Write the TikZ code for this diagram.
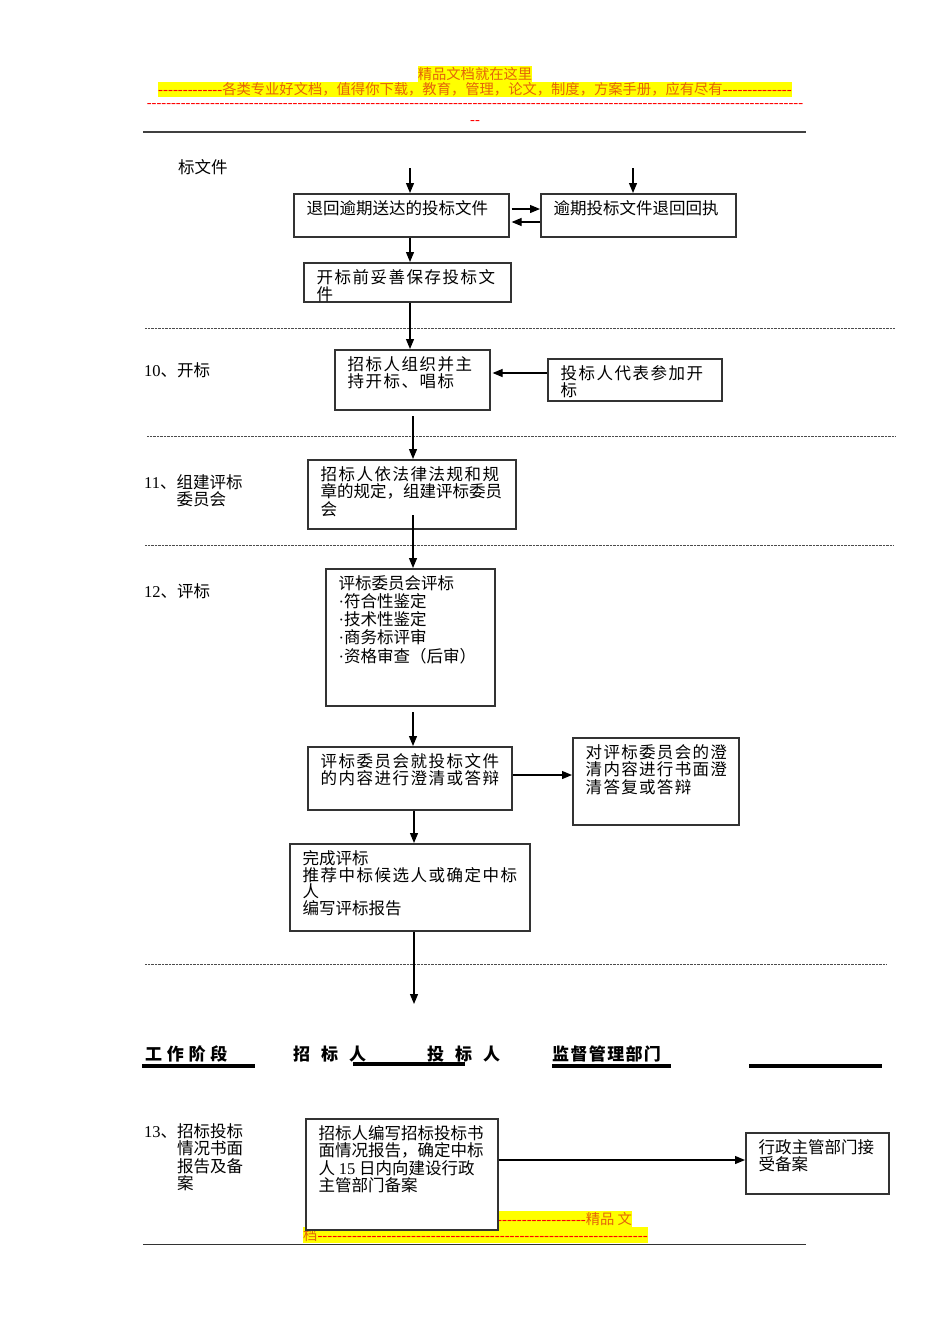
\documentclass[tikz,border=0pt]{standalone}
\usepackage{fontspec}
\setmainfont{Noto Sans CJK SC}
\newfontfamily\lat{Liberation Serif}
\newfontfamily\dsh[Ligatures=TeXOff]{Liberation Serif}
\newfontfamily\wide[LetterSpace=9]{Noto Sans CJK SC}
\newfontfamily\hwide[LetterSpace=28]{Noto Sans CJK SC}
\newfontfamily\mwide[LetterSpace=8]{Noto Sans CJK SC}
\usetikzlibrary{arrows.meta}
\ExplSyntaxOn
\cs_new:Npn \rephy #1 { \prg_replicate:nn {#1} {-} }
\ExplSyntaxOff
\definecolor{hlorange}{RGB}{228,100,10}
\definecolor{hlred}{RGB}{255,0,0}
\definecolor{hlyellow}{RGB}{255,255,0}
\tikzset{
  boxst/.style={draw=black!80, line width=1.6pt, fill=white, inner sep=0pt, rectangle},
  txt/.style={inner sep=0pt, align=left, font=\fontsize{16.5}{17.5}\selectfont},
  wtxt/.style={inner sep=0pt, align=left, font=\wide\fontsize{16.5}{17.5}\selectfont},
  arr/.style={line width=1.2pt, -{Triangle[length=10pt,width=8pt]}},
  sepline/.style={line width=0.8pt, black!70, dash pattern=on 0.7pt off 0.7pt},
  bar/.style={line width=4pt, black},
  hl/.style={fill=hlyellow, inner xsep=0pt, inner ysep=1pt, text=hlorange, font=\fontsize{14.3}{15}\selectfont},
  redtxt/.style={inner sep=0pt, text=hlred, font=\dsh\fontsize{14.6}{15}\selectfont},
  hdr/.style={inner sep=0pt, font=\bfseries\fontsize{17}{18}\selectfont},
}
\newcommand\mkbox[7][txt]{%
  \node[boxst, anchor=north west, minimum width={(#5)-(#3)}, minimum height={(#6)-(#4)}] (#2) at (#3,#4) {};
  \node[#1, anchor=north west] (#2t) at ([xshift=13.5pt,yshift=-7pt]#2.north west) {#7};
}
\newcommand\dd[1]{{\dsh\color{hlred}\fontsize{14.8}{15}\selectfont\rephy{#1}}}
\newcommand\dotb{{\lat ·}}
\begin{document}
\begin{tikzpicture}[x=1pt,y=-1pt]
\useasboundingbox[fill=white] (0,0) rectangle (950,1344);

% ---- header ----
\node[hl] (h1) at (475,74) {精品文档就在这里};
\node[hl] (h2) at (475,89.5) {\dd{13}各类专业好文档，值得你下载，教育，管理，论文，制度，方案手册，应有尽有\dd{14}};
\node[redtxt] (h3) at (475,106) {\rephy{135}};
\node[redtxt] (h4) at (475,123) {\rephy{2}};
\draw[line width=2pt, black!75] (143,131.5) coordinate (hl1) -- (806,131.5) coordinate (hl2);

% ---- separators ----
\draw[sepline] (145,328) coordinate (d1a) -- (895,328) coordinate (d1b);
\draw[sepline] (147,436) coordinate (d2a) -- (895,436) coordinate (d2b);
\draw[sepline] (145,545) coordinate (d3a) -- (893,545) coordinate (d3b);
\draw[sepline] (145,964) coordinate (d4a) -- (886,964) coordinate (d4b);

% ---- left labels ----
\node[txt, anchor=west] (l0) at (178,167) {标文件};
\node[txt, anchor=west] (l10) at (144,370) {{\lat 10}、开标};
\node[txt, anchor=north west] (l11) at (144,474) {{\lat 11}、组建评标\\\phantom{{\lat 11}、}委员会};
\node[txt, anchor=west] (l12) at (144,591) {{\lat 12}、评标};
\node[txt, anchor=north west] (l13) at (144,1123) {{\lat 13}、招标投标\\\phantom{{\lat 13}、}情况书面\\\phantom{{\lat 13}、}报告及备\\\phantom{{\lat 13}、}案};

% ---- boxes ----
\mkbox{b1}{293}{193}{508}{236}{退回逾期送达的投标文件}
\mkbox{b2}{540}{193}{735}{236}{逾期投标文件退回回执}
\mkbox[wtxt]{b3}{303}{262}{510}{301}{开标前妥善保存投标文\\件}
\mkbox[wtxt]{b4}{334}{349}{489}{409}{招标人组织并主\\持开标、唱标}
\mkbox[wtxt]{b5}{547}{358}{721}{400}{投标人代表参加开\\标}
\mkbox[txt]{b6}{307}{459}{515}{528}{{\wide 招标人依法律法规和规}\\章的规定，组建评标委员\\会}
\mkbox[{txt,font=\fontsize{16.5}{18.3}\selectfont}]{b7}{325}{568}{494}{705}{评标委员会评标\\\dotb 符合性鉴定\\\dotb 技术性鉴定\\\dotb 商务标评审\\\dotb 资格审查（后审）}
\mkbox[wtxt]{b8}{307}{746}{511}{809}{评标委员会就投标文件\\的内容进行澄清或答辩}
\mkbox[{inner sep=0pt, align=left, font=\mwide\fontsize{16.5}{17.5}\selectfont}]{b9}{572}{737}{738}{824}{对评标委员会的澄\\清内容进行书面澄\\清答复或答辩}
\mkbox[{txt,font=\fontsize{16.5}{16.8}\selectfont}]{b10}{289}{843}{529}{930}{完成评标\\{\wide 推荐中标候选人或确定中标}\\人\\编写评标报告}

% ---- table header ----
\node[hdr, anchor=west] (t1) at (145,1054) {\hwide 工作阶段};
\node[hdr, anchor=west] (t2) at (293,1054) {招\hspace{11pt}标\hspace{11pt}人};
\node[hdr, anchor=west] (t3) at (427,1054) {投\hspace{11pt}标\hspace{11pt}人};
\node[hdr, anchor=west] (t4) at (552,1054) {\mwide 监督管理部门};
\draw[bar] (142,1066) coordinate (u1a) -- (255,1066) coordinate (u1b);
\draw[bar] (353,1064) coordinate (u2a) -- (465,1064) coordinate (u2b);
\draw[bar] (552,1066) coordinate (u3a) -- (671,1066) coordinate (u3b);
\draw[bar] (749,1066) coordinate (u4a) -- (882,1066) coordinate (u4b);

% ---- footer highlight ----
\node[hl, anchor=west] (f1) at (497,1219) {\dd{18}精品 文};
\node[hl, anchor=west] (f2) at (303,1235) {档\dd{67}};

\mkbox{b11}{305}{1118}{497}{1229}{招标人编写招标投标书\\面情况报告，确定中标\\人 {\lat 15} 日内向建设行政\\主管部门备案}
\mkbox{b12}{745}{1132}{888}{1193}{行政主管部门接\\受备案}

\draw[line width=1.5pt, black!80] (143,1244.5) coordinate (fl1) -- (806,1244.5) coordinate (fl2);

% ---- connectors ----
\coordinate (s1) at (410,168);
\coordinate (s2) at (633,168);
\coordinate (s3) at (413,416);
\coordinate (s4) at (413,515);
\coordinate (s5) at (413,712);
\coordinate (s6) at (414,1004);
\draw[arr] (s1) -- (s1 |- b1.north);
\draw[arr] (s2) -- (s2 |- b2.north);
\draw[arr] ([xshift=2pt]b1.east |- 0,209) -- (b2.west |- 0,209);
\draw[arr] (b2.west |- 0,222) -- ([xshift=2pt]b1.east |- 0,222);
\draw[arr] (b1.south -| s1) -- (b3.north -| s1);
\draw[arr] (b3.south -| s1) -- (b4.north -| s1);
\draw[arr] (b5.west |- 0,373) -- ([xshift=2pt]b4.east |- 0,373);
\draw[arr] (s3) -- (s3 |- b6.north);
\draw[arr] (s4) -- (s4 |- b7.north);
\draw[arr] (s5) -- (s5 |- b8.north);
\draw[arr] (b8.east |- 0,775) -- (b9.west |- 0,775);
\draw[arr] (b8.south -| s6) -- (b10.north -| s6);
\draw[arr] (b10.south -| s6) -- (s6);
\draw[arr] (b11.east |- 0,1160) -- (b12.west |- 0,1160);
\end{tikzpicture}
\end{document}
